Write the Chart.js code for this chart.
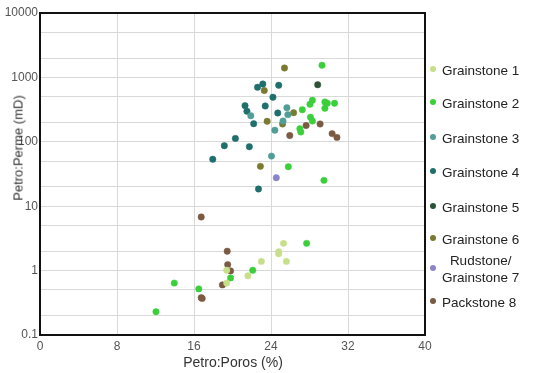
<!DOCTYPE html>
<html>
<head>
<meta charset="utf-8">
<script src="https://cdn.jsdelivr.net/npm/chart.js@4/dist/chart.umd.min.js"></script>
<style>
  body { margin: 0; background: #fff; font-family: "Liberation Sans", Arial, sans-serif; }
  #wrap { position: relative; width: 541px; height: 373px; }
  #chart { position: absolute; left: 0; top: 0; }
  .ytitle { position: absolute; left: 18px; top: 148px; transform: translate(-50%, -50%) rotate(-90deg);
            font-size: 13px; color: #333; white-space: nowrap; }
  .xtitle { position: absolute; left: 233px; top: 362px; transform: translate(-50%, -50%);
            font-size: 14px; color: #333; white-space: nowrap; }
  .leg { position: absolute; left: 430px; font-size: 13.5px; color: #222; white-space: nowrap; }
  .leg .dot { position: absolute; left: 0; width: 6px; height: 6px; border-radius: 50%; }
  .leg .txt { position: absolute; left: 12px; text-align: center; line-height: 17px; transform: translateY(-50%); }
</style>
</head>
<body>
<div id="wrap">
  <canvas id="chart" width="541" height="373"></canvas>
  <div class="ytitle">Petro:Perme (mD)</div>
  <div class="xtitle">Petro:Poros (%)</div>
  <div id="legend"></div>
</div>
<script>
// series names and colours
var seriesNames = ['Grainstone 1', 'Grainstone 2', 'Grainstone 3', 'Grainstone 4',
                   'Grainstone 5', 'Grainstone 6', 'Rudstone/\nGrainstone 7', 'Packstone 8'];
var seriesColors = ['#c8df8a', '#3ccf3c', '#4f9f97', '#1f6f6d',
                    '#2d5238', '#7a7a30', '#8c84c8', '#7a5a42'];

// porosity (%) and permeability (mD) per rock type
var g1Poros = [25.3, 24.8, 24.8, 23.0, 25.6, 19.4, 21.6, 19.4];
var g1Perme = [2.65, 1.96, 1.83, 1.39, 1.39, 1.01, 0.83, 0.64];

var g2Poros = [29.3, 27.25, 28.05, 28.3, 29.6, 29.85, 30.6, 29.6, 28.1, 28.3, 27.0, 27.1, 25.8, 29.5, 27.7, 22.1, 19.8, 13.95, 16.5, 12.05];
var g2Perme = [1540, 315, 382, 441, 415, 396, 396, 331, 240, 210, 160, 142, 41, 25.2, 2.65, 1.01, 0.77, 0.64, 0.52, 0.23];

var g3Poros = [21.9, 25.65, 25.75, 25.25, 24.4, 24.05];
var g3Perme = [254, 338, 264, 210, 151, 60];

var g4Poros = [22.6, 23.15, 24.8, 24.2, 21.3, 23.4, 21.5, 22.2, 24.7, 20.3, 19.15, 21.75, 17.95, 22.7];
var g4Perme = [702, 790, 754, 491, 364, 360, 298, 191, 280, 113, 87, 84, 53.5, 18.5];

var g5Poros = [28.85];
var g5Perme = [770];

var g6Poros = [25.4, 23.3, 23.6, 25.2, 22.9, 26.35];
var g6Perme = [1400, 626, 208, 189, 41.6, 283];

var r7Poros = [24.55];
var r7Perme = [27.7];

var p8Poros = [27.65, 29.1, 25.95, 30.35, 30.85, 16.75, 19.45, 19.5, 19.8, 18.95, 16.75, 16.85];
var p8Perme = [179, 189, 125, 134, 117, 6.8, 2.0, 1.24, 0.99, 0.60, 0.38, 0.37];

// axis ticks
var xTicks = [0, 8, 16, 24, 32, 40];
var yGrid = [0.1, 0.2, 0.5, 1, 2, 5, 10, 20, 50, 100, 200, 500, 1000, 2000, 5000, 10000];
var yLabels = [0.1, 1, 10, 100, 1000, 10000];

var porosList = [g1Poros, g2Poros, g3Poros, g4Poros, g5Poros, g6Poros, r7Poros, p8Poros];
var permeList = [g1Perme, g2Perme, g3Perme, g4Perme, g5Perme, g6Perme, r7Perme, p8Perme];

var datasets = [];
for (let i = 0; i < seriesNames.length; i++) {
    let pts = [];
    for (let j = 0; j < porosList[i].length; j++) {
        pts.push({ x: porosList[i][j], y: permeList[i][j] });
    }
    datasets.push({
        label: seriesNames[i],
        data: pts,
        backgroundColor: seriesColors[i],
        borderColor: seriesColors[i],
        borderWidth: 0.5,
        pointRadius: 3.2
    });
}

// black frame round the plot area
var framePlugin = {
    id: 'frame',
    afterDraw: function(chart) {
        let a = chart.chartArea;
        let ctx = chart.ctx;
        ctx.save();
        ctx.strokeStyle = '#111';
        ctx.lineWidth = 2;
        ctx.strokeRect(a.left, a.top, a.right - a.left, a.bottom - a.top);
        ctx.restore();
    }
};

var tickFont = { family: '"Liberation Sans", Arial, sans-serif', size: 12 };

new Chart(document.getElementById('chart'), {
    type: 'scatter',
    data: { datasets: datasets },
    options: {
        responsive: false,
        animation: false,
        layout: { padding: { left: 0, top: 13, right: 116, bottom: 0 } },
        plugins: { legend: { display: false }, tooltip: { enabled: false } },
        scales: {
            x: {
                type: 'linear', min: 0, max: 40,
                afterBuildTicks: function(s) { s.ticks = xTicks.map(v => ({ value: v })); },
                afterFit: function(s) { s.height = 38; },
                grid: { color: '#d9d9d9', drawTicks: false },
                border: { display: false },
                ticks: { padding: 4, color: '#555', font: tickFont, autoSkip: false, maxRotation: 0 }
            },
            y: {
                type: 'logarithmic', min: 0.1, max: 10000,
                afterBuildTicks: function(s) { s.ticks = yGrid.map(v => ({ value: v })); },
                afterFit: function(s) { s.width = 40; },
                grid: { color: '#d9d9d9', drawTicks: false },
                border: { display: false },
                ticks: {
                    padding: 2, color: '#555', font: tickFont, autoSkip: false,
                    callback: function(v) { return yLabels.indexOf(v) >= 0 ? String(v) : ''; }
                }
            }
        }
    },
    plugins: [framePlugin]
});

// legend on the right
var legendRowY = [70, 103, 138, 172, 207, 239, 269, 302];
var legend = document.getElementById('legend');
var html = '';
for (let i = 0; i < seriesNames.length; i++) {
    html += `<div class="leg" style="top:${legendRowY[i]}px">
                <span class="dot" style="top:-4px;background:${seriesColors[i]}"></span>
                <span class="txt">${seriesNames[i].replace('\n', '<br>')}</span>
             </div>`;
}
legend.innerHTML = html;
</script>
</body>
</html>
